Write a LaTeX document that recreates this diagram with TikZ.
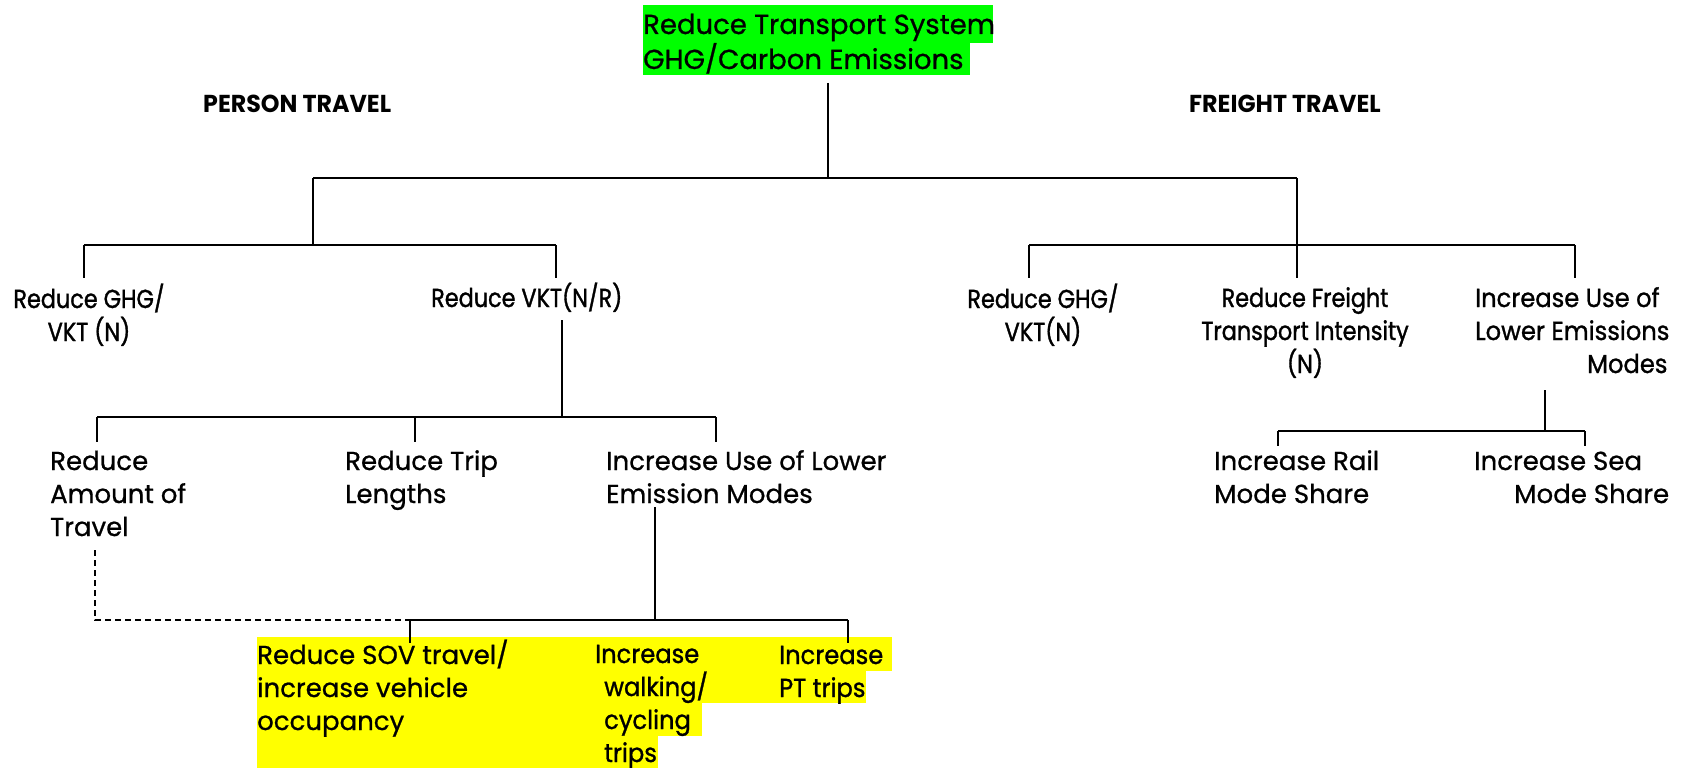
\documentclass[tikz,border=0pt]{standalone}
\usepackage{fontspec}
\setmainfont{Poppins}[FakeBold=0.7]
\newfontfamily\normfont{Poppins}[FakeBold=0.8]
\newfontfamily\condfont{Poppins}[FakeStretch=0.86,FakeBold=1.3]
\newfontfamily\midfont{Poppins}[FakeStretch=0.93,FakeBold=1.1]
\newfontfamily\hdrfont{Poppins}[FakeStretch=0.97]
\definecolor{hlgreen}{HTML}{00FF00}
\definecolor{hlyellow}{HTML}{FFFF00}
\begin{document}
\begin{tikzpicture}[x=1pt,y=-1pt,
  txt/.style={inner sep=0pt, anchor=base west, align=left, font=\normfont\fontsize{26}{33}\selectfont},
  ctxt/.style={txt, font=\condfont\fontsize{26}{33}\selectfont},
  mtxt/.style={txt, font=\midfont\fontsize{26}{33}\selectfont},
  hdr/.style={inner sep=0pt, anchor=base west, font=\hdrfont\bfseries\fontsize{24.5}{33}\selectfont},
  conn/.style={line width=1.4pt},
  dconn/.style={line width=1.4pt, dashed, dash pattern=on 6pt off 4pt}]
\useasboundingbox (0,0) rectangle (1690,768);
% highlights
\fill[hlgreen] (643,5) rectangle (993,43);
\fill[hlgreen] (643,43) rectangle (970,75);
\fill[hlyellow] (257,637) rectangle (892,671);
\fill[hlyellow] (257,671) rectangle (866,703);
\fill[hlyellow] (257,703) rectangle (702,736);
\fill[hlyellow] (257,736) rectangle (658,768);
% nodes (anchor at baseline of last line)
\node[txt, font=\normfont\fontsize{27.5}{35}\selectfont] (root) at (643,69) {Reduce Transport System\\GHG/Carbon Emissions};
\node[hdr] (person) at (203,113) {PERSON TRAVEL};
\node[hdr] (freight) at (1189,113) {FREIGHT TRAVEL};
\node[ctxt, anchor=base, align=center] (ghgL) at (89,341) {Reduce GHG/\\VKT (N)};
\node[ctxt] (vkt) at (431,307) {Reduce VKT(N/R)};
\node[ctxt, anchor=base, align=center] (ghgR) at (1043,341) {Reduce GHG/\\VKT(N)};
\node[ctxt, anchor=base, align=center] (frt) at (1305,373) {Reduce Freight\\Transport Intensity\\(N)};
\node[mtxt] (lowf) at (1475,373) {Increase Use of\\Lower Emissions\\\hspace*{112pt}Modes};
\node[txt] (amt) at (50,536) {Reduce\\Amount of\\Travel};
\node[txt] (trip) at (345,503) {Reduce Trip\\Lengths};
\node[txt] (ilm) at (606,503) {Increase Use of Lower\\Emission Modes};
\node[txt] (rail) at (1214,503) {Increase Rail\\Mode Share};
\node[txt] (sea) at (1474,503) {Increase Sea\\\hspace*{40pt}Mode Share};
\node[txt] (sov) at (257,730) {Reduce SOV travel/\\increase vehicle\\occupancy};
\node[mtxt] (walk) at (595,762) {Increase\\\hspace*{9pt}walking/\\\hspace*{9pt}cycling\\\hspace*{9pt}trips};
\node[mtxt] (ptt) at (779,697) {Increase\\PT trips};
% junction coordinates
\coordinate (c0) at (828,83);
\coordinate (c1) at (828,178);
\coordinate (c1l) at (313,178);
\coordinate (c1r) at (1297,178);
\coordinate (c2l) at (313,245);
\coordinate (c2la) at (84,245);
\coordinate (c2lb) at (556,245);
\coordinate (t1) at (84,278);
\coordinate (t2) at (556,278);
\coordinate (c2ra) at (1029,245);
\coordinate (c2rb) at (1575,245);
\coordinate (t3) at (1029,278);
\coordinate (t4) at (1297,278);
\coordinate (t5) at (1575,278);
\coordinate (v0) at (562,320);
\coordinate (v1) at (562,417);
\coordinate (v1a) at (97,417);
\coordinate (v1b) at (716,417);
\coordinate (t6) at (97,442);
\coordinate (t7) at (415,442);
\coordinate (t8) at (716,442);
\coordinate (e0) at (655,507);
\coordinate (e1) at (655,620);
\coordinate (e1a) at (410,620);
\coordinate (e1b) at (848,620);
\coordinate (t9) at (410,643);
\coordinate (t10) at (848,643);
\coordinate (d0) at (95,550);
\coordinate (d1) at (95,620);
\coordinate (f0) at (1545,390);
\coordinate (f1) at (1545,431);
\coordinate (f1a) at (1278,431);
\coordinate (f1b) at (1585,431);
\coordinate (t11) at (1278,446);
\coordinate (t12) at (1585,446);
% connectors
\draw[conn] (c0) -- (c1);
\draw[conn] (c1l) -- (c1r);
\draw[conn] (c1l) -- (c2l);
\draw[conn] (c2la) -- (c2lb);
\draw[conn] (c2la) -- (t1);
\draw[conn] (c2lb) -- (t2);
\draw[conn] (c1r) -- (t4);
\draw[conn] (c2ra) -- (c2rb);
\draw[conn] (c2ra) -- (t3);
\draw[conn] (c2rb) -- (t5);
\draw[conn] (v0) -- (v1);
\draw[conn] (v1a) -- (v1b);
\draw[conn] (v1a) -- (t6);
\draw[conn] (t7 |- v1) -- (t7);
\draw[conn] (v1b) -- (t8);
\draw[conn] (e0) -- (e1);
\draw[conn] (e1a) -- (e1b);
\draw[conn] (e1a) -- (t9);
\draw[conn] (e1b) -- (t10);
\draw[dconn] (d0) -- (d1) -- (e1a);
\draw[conn] (f0) -- (f1);
\draw[conn] (f1a) -- (f1b);
\draw[conn] (f1a) -- (t11);
\draw[conn] (f1b) -- (t12);
\end{tikzpicture}
\end{document}
